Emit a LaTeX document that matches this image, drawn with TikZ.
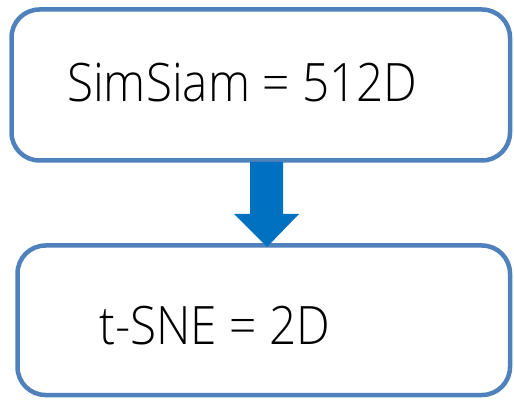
\documentclass[tikz,border=0pt]{standalone}
\usepackage{fontspec}
\setmainfont{Open Sans Light}[FakeStretch=0.90]
\definecolor{boxline}{HTML}{4F81BD}
\definecolor{arrowfill}{HTML}{0070C0}
\tikzset{
  stage/.style={draw=boxline, line width=4.5pt, rounded corners=28pt, fill=white,
    minimum width=#1, inner sep=0pt},
  label/.style={anchor=base west, inner sep=0pt, font=\fontsize{53}{60}\selectfont},
}
\begin{document}
\begin{tikzpicture}[x=1pt,y=1pt]
  \useasboundingbox (0,0) rectangle (514,399);
  % upper box
  \node[stage=498.5pt, minimum height=151pt] (top) at (260.75,314) {};
  % lower box
  \node[stage=492.5pt, minimum height=149.5pt] (bot) at (263.75,78.75) {};
  \node[label] (toptext) at (67,297) {SimSiam = 512D};
  \node[label] (bottext) at (99,54) {t-SNE = 2D};
  % downward block arrow between the boxes
  \fill[arrowfill] (250,237) -- (283,237) -- (283,185) -- (299,185)
    -- (267,152) -- (234,185) -- (250,185) -- cycle;
\end{tikzpicture}
\end{document}
